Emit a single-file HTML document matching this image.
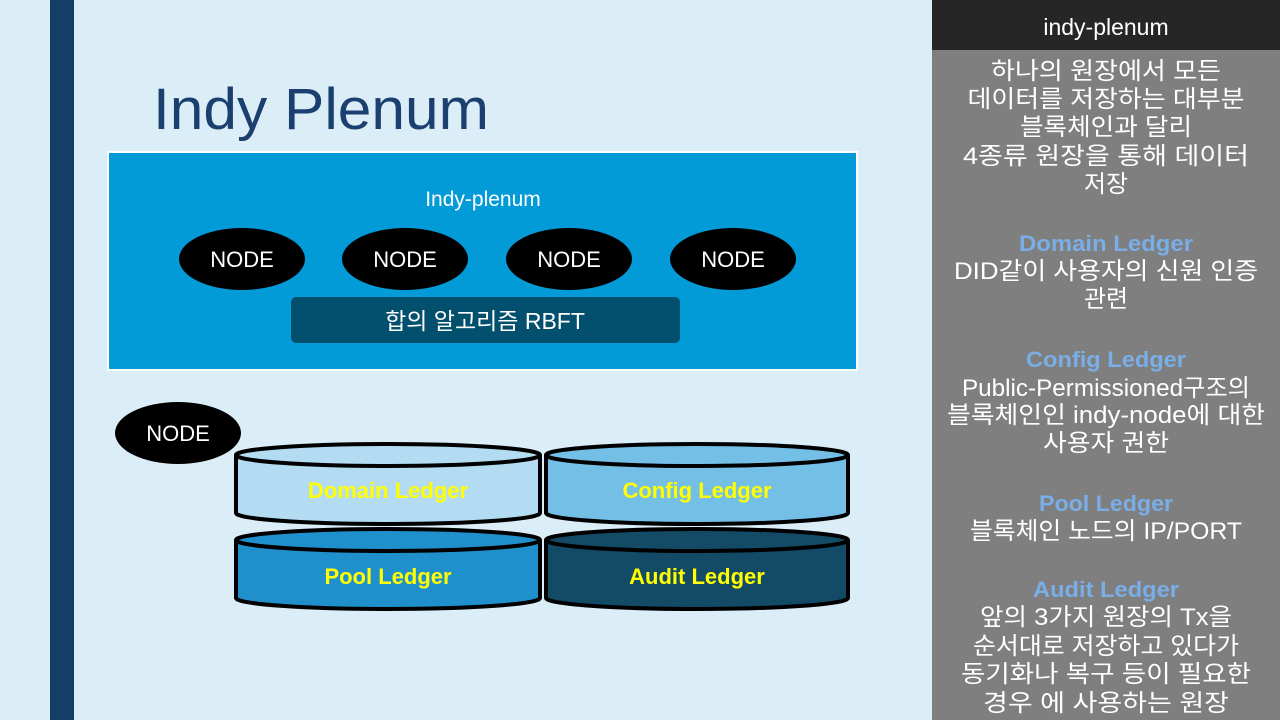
<!DOCTYPE html>
<html><head><meta charset="utf-8"><style>
html,body{margin:0;padding:0;width:1280px;height:720px;overflow:hidden;background:#dbeef8}
svg{display:block}
text{font-family:"Liberation Sans","Noto Sans CJK KR",sans-serif}
</style></head><body>
<svg width="1280" height="720" viewBox="0 0 1280 720">
<rect width="1280" height="720" fill="#dbeef8"/>
<rect x="50" y="0" width="24" height="720" fill="#153e66"/>
<text x="153" y="129" font-size="58" fill="#1b3f6e" textLength="336" lengthAdjust="spacingAndGlyphs">Indy Plenum</text>
<rect x="108" y="152" width="749" height="218" fill="#029bd8" stroke="#fff" stroke-width="2"/>
<text x="483" y="206" font-size="21" fill="#fff" text-anchor="middle">Indy-plenum</text>
<g fill="#000"><ellipse cx="242" cy="259" rx="63" ry="31"/><ellipse cx="405" cy="259" rx="63" ry="31"/><ellipse cx="569" cy="259" rx="63" ry="31"/><ellipse cx="733" cy="259" rx="63" ry="31"/><ellipse cx="178" cy="433" rx="63" ry="31"/></g>
<g font-size="22" fill="#fff" text-anchor="middle"><text x="242" y="267">NODE</text><text x="405" y="267">NODE</text><text x="569" y="267">NODE</text><text x="733" y="267">NODE</text><text x="178" y="441">NODE</text></g>
<rect x="291" y="297" width="389" height="46" rx="5" fill="#034f6e"/>
<text x="485" y="329" font-size="23" fill="#fff" text-anchor="middle">합의 알고리즘 RBFT</text>
<g stroke="#000" stroke-width="4">
<path d="M236 455 V513 A152 11 0 0 0 540 513 V455" fill="#b3dcf2"/><ellipse cx="388" cy="455" rx="152" ry="11" fill="#b3dcf2"/>
<path d="M546 455 V513 A151 11 0 0 0 848 513 V455" fill="#74bfe6"/><ellipse cx="697" cy="455" rx="151" ry="11" fill="#74bfe6"/>
<path d="M236 540 V598 A152 11 0 0 0 540 598 V540" fill="#2090cc"/><ellipse cx="388" cy="540" rx="152" ry="11" fill="#2090cc"/>
<path d="M546 540 V598 A151 11 0 0 0 848 598 V540" fill="#134a66"/><ellipse cx="697" cy="540" rx="151" ry="11" fill="#134a66"/>
</g>
<g font-size="22" font-weight="bold" fill="#ffff00" text-anchor="middle">
<text x="388" y="498">Domain Ledger</text><text x="697" y="498">Config Ledger</text>
<text x="388" y="584">Pool Ledger</text><text x="697" y="584">Audit Ledger</text></g>
<rect x="932" y="0" width="348" height="720" fill="#7f7f7f"/>
<rect x="932" y="0" width="348" height="50" fill="#262626"/>
<g font-size="24" fill="#fff" text-anchor="middle">
<text x="1106" y="35" font-size="23">indy-plenum</text>
<text x="1106" y="79" textLength="230" lengthAdjust="spacingAndGlyphs">하나의 원장에서 모든</text>
<text x="1106" y="107" textLength="277" lengthAdjust="spacingAndGlyphs">데이터를 저장하는 대부분</text>
<text x="1106" y="135" textLength="172" lengthAdjust="spacingAndGlyphs">블록체인과 달리</text>
<text x="1106" y="164" textLength="286" lengthAdjust="spacingAndGlyphs">4종류 원장을 통해  데이터</text>
<text x="1106" y="192" textLength="44" lengthAdjust="spacingAndGlyphs">저장</text>
<text x="1106" y="279" textLength="304" lengthAdjust="spacingAndGlyphs">DID같이 사용자의 신원 인증</text>
<text x="1106" y="307" textLength="44" lengthAdjust="spacingAndGlyphs">관련</text>
<text x="1106" y="396" textLength="288" lengthAdjust="spacingAndGlyphs">Public-Permissioned구조의</text>
<text x="1106" y="423" textLength="318" lengthAdjust="spacingAndGlyphs">블록체인인 indy-node에 대한</text>
<text x="1106" y="451" textLength="126" lengthAdjust="spacingAndGlyphs">사용자 권한</text>
<text x="1106" y="539" textLength="272" lengthAdjust="spacingAndGlyphs">블록체인 노드의 IP/PORT</text>
<text x="1106" y="625" textLength="252" lengthAdjust="spacingAndGlyphs">앞의 3가지 원장의 Tx을</text>
<text x="1106" y="654" textLength="266" lengthAdjust="spacingAndGlyphs">순서대로 저장하고 있다가</text>
<text x="1106" y="682" textLength="290" lengthAdjust="spacingAndGlyphs">동기화나 복구 등이 필요한</text>
<text x="1106" y="711" textLength="246" lengthAdjust="spacingAndGlyphs">경우 에 사용하는 원장</text>
</g>
<g font-size="22" font-weight="bold" fill="#79aee6" text-anchor="middle">
<text x="1106" y="251" textLength="174" lengthAdjust="spacingAndGlyphs">Domain Ledger</text>
<text x="1106" y="367" textLength="160" lengthAdjust="spacingAndGlyphs">Config Ledger</text>
<text x="1106" y="511" textLength="134" lengthAdjust="spacingAndGlyphs">Pool Ledger</text>
<text x="1106" y="597" textLength="146" lengthAdjust="spacingAndGlyphs">Audit Ledger</text>
</g>
</svg>
</body></html>
